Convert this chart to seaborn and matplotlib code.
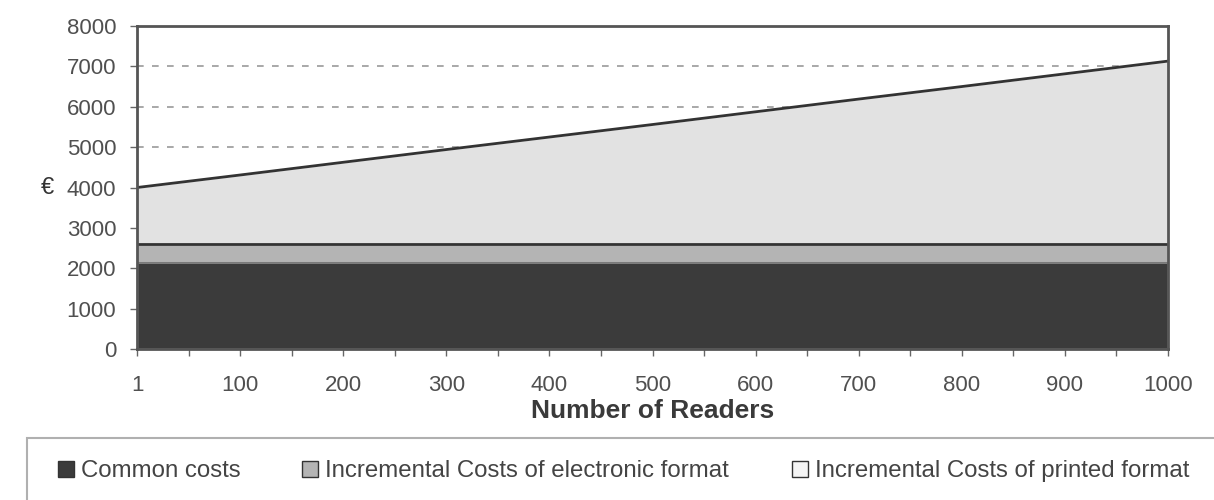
import numpy as np
import pandas as pd
import seaborn as sns
import matplotlib.pyplot as plt
from matplotlib.patches import Patch, Rectangle

readers = ["1", "100", "200", "300", "400", "500", "600", "700", "800", "900", "1000"]
common_costs = [2150] * 11
electronic_costs = [450] * 11
total_costs = [4000, 4310, 4625, 4940, 5250, 5560, 5875, 6190, 6500, 6815, 7130]
printed_costs = [t - c - e for t, c, e in zip(total_costs, common_costs, electronic_costs)]
series_labels = ["Common costs", "Incremental Costs of electronic format",
                 "Incremental Costs of printed format"]

sns.set_theme(style="white")
plt.rcParams['font.family'] = ['Liberation Sans', 'DejaVu Sans']

df = pd.DataFrame({"readers": readers, "common": common_costs,
                   "electronic": electronic_costs, "printed": printed_costs})
df["pos"] = np.arange(len(df))
df["elec_top"] = df["common"] + df["electronic"]
df["total"] = df["elec_top"] + df["printed"]

fig = plt.figure(figsize=(12.14, 5), dpi=100)
ax = fig.add_axes([0.113, 0.302, 0.849, 0.646])

for y in [1000, 2000, 3000, 4000, 5000, 6000, 7000]:
    ax.axhline(y, color="#9a9a9a", lw=1.2, ls=(0, (4, 5)), zorder=0)

ax.stackplot(df["pos"], df["common"], df["electronic"], df["printed"],
             colors=["#3b3b3b", "#b4b4b4", "#e2e2e2"], zorder=1)
sns.lineplot(x="pos", y="elec_top", data=df, ax=ax, color="#333333", lw=2, zorder=2)
sns.lineplot(x="pos", y="total", data=df, ax=ax, color="#333333", lw=2, zorder=2)
sns.lineplot(x="pos", y="common", data=df, ax=ax, color="#7a7a7a", lw=1, zorder=2)

ax.set_xlim(0, len(readers) - 1)
ax.set_ylim(0, 8000)
ax.set_xticks(df["pos"])
ax.set_xticklabels(readers)
ax.set_xticks(np.arange(0.5, len(readers) - 1, 1), minor=True)
ax.set_yticks(range(0, 8001, 1000))
ax.tick_params(axis="both", which="both", direction="out", length=5, width=1,
               color="#666666", labelsize=16, labelcolor="#505050", bottom=True, left=True)
ax.tick_params(axis="x", pad=14)
ax.tick_params(axis="y", pad=10)
for s in ax.spines.values():
    s.set_color("#555555")
    s.set_linewidth(2)

ax.set_xlabel("Number of Readers", fontsize=19, fontweight="bold", color="#3a3a3a", labelpad=2)
ax.set_ylabel("€", fontsize=17, color="#333333", rotation=0, va="center")
ax.yaxis.set_label_coords(-0.087, 0.5)

# legend box, running off the right and bottom edge like the source
fig.patches.append(Rectangle((27 / 1214, -0.1), 1.2, 0.1 + (500 - 438) / 500,
                             transform=fig.transFigure, facecolor="white",
                             edgecolor="#b0b0b0", lw=1.5))
colors = ["#3b3b3b", "#b4b4b4", "#f4f4f4"]
leg_x = [58, 302, 792]
for lab, col, lx in zip(series_labels, colors, leg_x):
    h = Patch(facecolor=col, edgecolor="#333333", label=lab)
    fig.legend(handles=[h], loc="center left", bbox_to_anchor=(lx / 1214, 1 - 471 / 500),
               frameon=False, fontsize=17.3, handlelength=0.65, handleheight=0.65,
               handletextpad=0.3, borderpad=0, borderaxespad=0, labelcolor="#444444")

fig.savefig("out.png", dpi=100)
